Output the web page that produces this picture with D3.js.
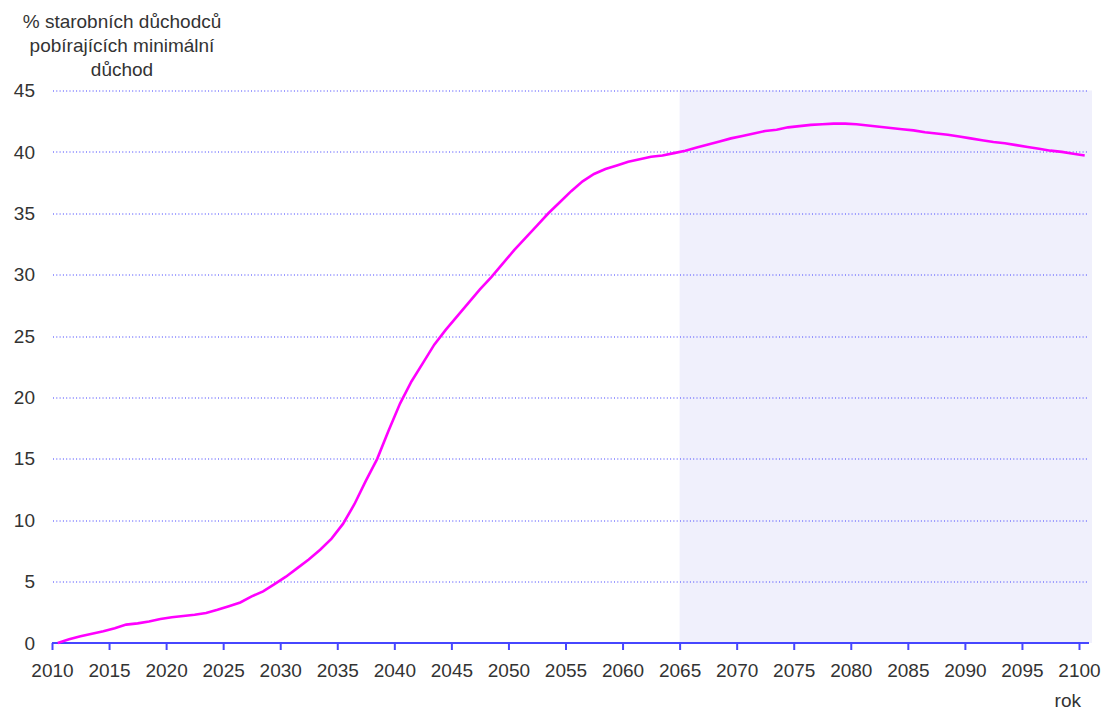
<!DOCTYPE html>
<html>
<head>
<meta charset="utf-8">
<script src="https://cdn.jsdelivr.net/npm/d3@7"></script>
<style>
  body { margin: 0; background: #fff; }
  text { font-family: "Liberation Sans", Arial, sans-serif; fill: #333; }
</style>
</head>
<body>
<div id="viz"></div>
<script>
// years 2010..2100
var years = d3.range(2010, 2101);
var values = [
  0.0, 0.3, 0.55, 0.75, 0.95, 1.2, 1.5, 1.6, 1.75, 1.95,
  2.1, 2.2, 2.3, 2.45, 2.7, 3.0, 3.3, 3.8, 4.2, 4.8,
  5.4, 6.1, 6.8, 7.6, 8.5, 9.7, 11.3, 13.2, 15.0, 17.3,
  19.5, 21.3, 22.8, 24.3, 25.5, 26.6, 27.7, 28.8, 29.8, 30.9,
  32.0, 33.0, 34.0, 35.0, 35.9, 36.8, 37.6, 38.2, 38.6, 38.9,
  39.2, 39.4, 39.6, 39.7, 39.9, 40.1, 40.35, 40.6, 40.85, 41.1,
  41.3, 41.5, 41.7, 41.8, 42.0, 42.1, 42.2, 42.25, 42.3, 42.3,
  42.25, 42.15, 42.05, 41.95, 41.85, 41.75, 41.6, 41.5, 41.4, 41.25,
  41.1, 40.95, 40.8, 40.7, 40.55, 40.4, 40.25, 40.1, 40.0, 39.85,
  39.7
];
var xTicks = d3.range(2010, 2101, 5);
var yTicks = d3.range(0, 46, 5);
var forecastStart = 2065;
var yTitle = ["% starobních důchodců", "pobírajících minimální", "důchod"];
var xTitle = "rok";

var data = years.map(function (y, i) { return { year: y, value: values[i] }; });

var W = 1112, H = 713;
var margin = { top: 90.5, right: 33, bottom: 70, left: 52 };
var width = W - margin.left - margin.right,   // 1027
  height = 643 - margin.top;

var svg = d3.select("#viz").append("svg")
  .attr("width", W)
  .attr("height", H);

var g = svg.append("g")
  .attr("transform", "translate(" + margin.left + "," + margin.top + ")");

var x = d3.scaleLinear().domain([2010, 2100]).range([0, width]);
var y = d3.scaleLinear().domain([0, 45]).range([height, 0]);

// forecast band
g.append("rect")
  .attr("x", x(forecastStart))
  .attr("y", y(45))
  .attr("width", width + 13 - x(forecastStart))
  .attr("height", y(0) - y(45))
  .style("fill", "#f0f0fc");

// dotted grid
g.selectAll(".grid")
  .data(yTicks.filter(function (d) { return d > 0; }))
  .enter().append("line")
  .attr("class", "grid")
  .attr("x1", 1)
  .attr("x2", width + 9)
  .attr("y1", function (d) { return Math.round(y(d)) + 0.5; })
  .attr("y2", function (d) { return Math.round(y(d)) + 0.5; })
  .style("stroke", "#3c3cff")
  .style("stroke-width", 1)
  .style("stroke-dasharray", "1,2.3");

// y labels
g.selectAll(".ylab")
  .data(yTicks)
  .enter().append("text")
  .attr("class", "ylab")
  .attr("x", -17)
  .attr("y", function (d) { return y(d); })
  .attr("dy", "0.35em")
  .style("text-anchor", "end")
  .style("font-size", "19px")
  .text(function (d) { return d; });

// x axis
var xAxis = d3.axisBottom(x).tickValues(xTicks).tickSize(7).tickFormat(d3.format("d"));
var ax = g.append("g")
  .attr("transform", "translate(0," + height + ")")
  .call(xAxis);
ax.select(".domain").remove();
ax.append("line")
  .attr("x1", 0).attr("x2", width + 10)
  .attr("y1", 0).attr("y2", 0)
  .style("stroke", "#4646ff")
  .style("stroke-width", 2);
ax.selectAll(".tick line").style("stroke", "#4646ff").style("stroke-width", 2);
ax.selectAll(".tick text")
  .attr("y", 21)
  .attr("dy", "0.71em")
  .style("font-size", "19px")
  .style("font-family", "Liberation Sans, Arial, sans-serif")
  .style("fill", "#333");

// the line, values plotted at mid-year
var line = d3.line()
  .x(function (d) { return x(d.year + 0.5); })
  .y(function (d) { return y(d.value); });

g.append("path")
  .datum(data)
  .attr("d", line)
  .style("fill", "none")
  .style("stroke", "#ff00ff")
  .style("stroke-width", 2.6);

// titles
svg.append("text")
  .attr("x", 122)
  .style("text-anchor", "middle")
  .style("font-size", "19px")
  .selectAll("tspan")
  .data(yTitle)
  .enter().append("tspan")
  .attr("x", 122)
  .attr("y", function (d, i) { return 28 + i * 24; })
  .text(function (d) { return d; });

svg.append("text")
  .attr("x", 1081)
  .attr("y", 707)
  .style("text-anchor", "end")
  .style("font-size", "19px")
  .text(xTitle);
</script>
</body>
</html>
